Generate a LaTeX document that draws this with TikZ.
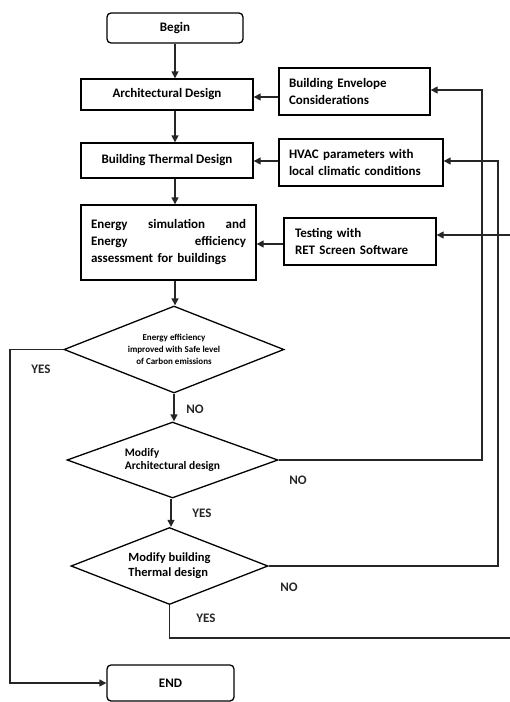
\documentclass[tikz,border=0pt]{standalone}
\usepackage{fontspec}
\setmainfont{Carlito}
\usetikzlibrary{shapes.geometric,arrows.meta}
\tikzset{
  box/.style={draw=black,line width=1.3pt,inner sep=0pt,font=\fontsize{13}{17}\selectfont\bfseries},
  rbox/.style={box,rounded corners=4pt,align=center},
  dia/.style={draw=black,line width=1.3pt,diamond,inner sep=0pt,align=left},
  arr/.style={draw=black!85,line width=1.3pt,-{Triangle[length=7pt,width=7pt]}},
  ln/.style={draw=black!80,line width=1.3pt},
  lab/.style={font=\fontsize{13}{15}\selectfont\bfseries,text=black!85}
}
\begin{document}
\begin{tikzpicture}[x=1pt,y=-1pt]
\useasboundingbox (0,0) rectangle (510,702);
\clip (0,0) rectangle (510,702);
\node[rbox,minimum width=136pt,minimum height=30pt] (begin) at (175,28) {Begin};
\node[box,minimum width=172pt,minimum height=31pt,align=center] (arch) at (167,94.5) {Architectural Design};
\node[box,minimum width=151pt,minimum height=47pt,text width=131pt,inner xsep=10pt,align=left] (env) at (354.5,91.5) {Building Envelope\\Considerations};
\node[box,minimum width=172pt,minimum height=35pt,align=center] (therm) at (167,160.5) {Building Thermal Design};
\node[box,minimum width=164pt,minimum height=47pt,text width=144pt,inner xsep=10pt,align=left] (hvac) at (361,162.5) {HVAC parameters with\\local climatic conditions};
\node[box,minimum width=175pt,minimum height=75pt,text width=155pt,inner xsep=10pt,align=left] (energy) at (168.5,242.5)
  {Energy\hfill simulation\hfill and\\Energy\hfill efficiency\\assessment for buildings};
\node[box,minimum width=152pt,minimum height=47pt,text width=130pt,inner xsep=11pt,align=left] (test) at (360,241.5) {Testing with\\RET Screen Software};
\node[dia,aspect=2.53,minimum width=220pt,minimum height=87pt,align=center,font=\fontsize{9}{12}\selectfont\bfseries] (d1) at (174,349.5)
  {Energy efficiency\\improved with Safe level\\of Carbon emissions};
\node[dia,aspect=2.78,minimum width=211pt,minimum height=76pt,font=\fontsize{11.5}{13.5}\selectfont\bfseries] (d2) at (172.5,460)
  {Modify\\Architectural design};
\node[dia,aspect=2.56,minimum width=197pt,minimum height=77pt,font=\fontsize{12.5}{15}\selectfont\bfseries] (d3) at (169.5,566)
  {Modify building\\Thermal design};
\node[rbox,minimum width=127pt,minimum height=36pt] (end) at (170.5,683) {END};

\coordinate (c1) at (482,90);
\coordinate (c2) at (498,161);
\coordinate (c3) at (516,235);

\draw[arr] (begin.south) -- (begin.south |- arch.north);
\draw[arr] (arch.south -| begin.south) -- (therm.north -| begin.south);
\draw[arr] (therm.south -| begin.south) -- (energy.north -| begin.south);
\draw[arr] (energy.south -| begin.south) -- (d1.north -| begin.south);
\draw[arr] (d1.south) -- (d2.north -| d1.south);
\draw[arr] (d2.south -| 171,0) -- (d3.north -| 171,0);
\draw[arr] (env.west |- 0,97) -- (arch.east |- 0,97);
\draw[arr] (hvac.west |- 0,161) -- (therm.east |- 0,161);
\draw[arr] (test.west |- 0,244) -- (energy.east |- 0,244);

\draw[arr] (d2.east) -| (c1) -- (c1 -| env.east);
\draw[arr] (d3.east) -| (c2) -- (c2 -| hvac.east);
\draw[arr] (d3.south) -- (d3.south |- 0,638) -| (c3) -- (c3 -| test.east);
\draw[arr] (d1.west) -- (10,349.5) |- (end.west);

\node[lab] (y1) at (41,369) {YES};
\node[lab] (n1) at (195,409) {NO};
\node[lab] (n2) at (298,480) {NO};
\node[lab] (y2) at (202,513) {YES};
\node[lab] (n3) at (289,587) {NO};
\node[lab] (y3) at (206,618) {YES};
\end{tikzpicture}
\end{document}
